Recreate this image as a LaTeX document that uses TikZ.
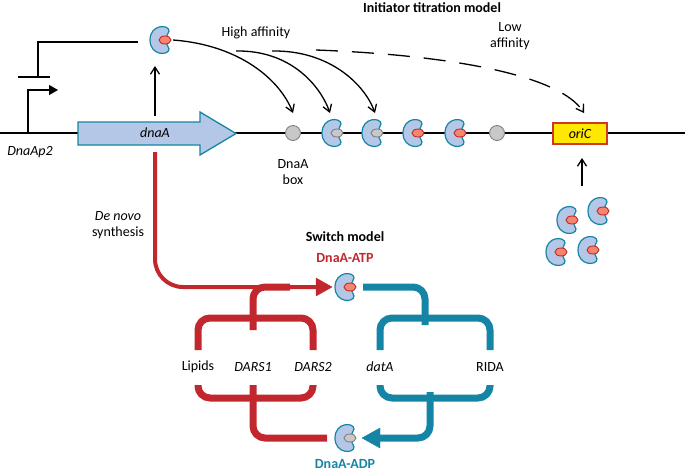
\documentclass[tikz,border=0pt]{standalone}
\usepackage{fontspec}
\setmainfont{Carlito}
\usetikzlibrary{arrows.meta}
\definecolor{teal1}{HTML}{1585A5}
\definecolor{lblue}{HTML}{B4C7E7}
\definecolor{red1}{HTML}{C1272D}
\definecolor{salmon}{HTML}{F4866E}
\definecolor{gry}{HTML}{C8C8C8}
\tikzset{
 bean/.pic={\draw[teal1,fill=lblue,line width=1.2pt] (6,-2) .. controls (6,-5) and (9,-6) .. (9,-9) .. controls (9,-16) and (-10,-16) .. (-10,0) .. controls (-10,16) and (9,16) .. (9,9) .. controls (9,6) and (6,5) .. (6,2) -- cycle;},
 atp/.pic={\pic{bean};\draw[red1,fill=salmon,line width=0.9pt] (5,0) ellipse (6 and 4);},
 adp/.pic={\pic{bean};\draw[gray,fill=gry,line width=0.9pt] (5,0) ellipse (6 and 4);},
 lbl/.style={font=\fontsize{14}{16}\selectfont},
 ilbl/.style={font=\itshape\fontsize{14}{16}\selectfont},
 blbl/.style={font=\bfseries\fontsize{14}{16}\selectfont},
 thin/.style={line width=1.3pt,-{Straight Barb[length=7pt,width=9pt]}},
 thick/.style={line width=7pt,rounded corners=12pt},
 box/.style={circle,draw=gray,fill=gry,minimum size=15pt,inner sep=0,line width=0.9pt},
}
\begin{document}
\begin{tikzpicture}[x=1pt,y=-1pt]
\useasboundingbox (0,0) rectangle (685,475);
% baseline
\coordinate (L0) at (0,133); \coordinate (L1) at (685,133);
\draw[line width=1.3pt] (L0) -- (L1);
% promoter
\coordinate (p0) at (28,133);
\draw[line width=1.3pt,-{Triangle[length=9pt,width=10pt]}] (p0) |- (58,90);
\draw[line width=1.3pt] (18,77) -- (50,77);
\draw[line width=1.3pt] (38,77) |- (138,42);
\node[ilbl] (p2) at (30,152) {DnaAp2};
% dnaA gene
\draw[teal1,fill=lblue,line width=1.3pt] (78,122) -- (200,122) -- (200,112) -- (236,133.5) -- (200,155) -- (200,145) -- (78,145) -- cycle;
\node[ilbl] (gene) at (155,133) {dnaA};
\pic at (160,40) {atp};
\coordinate (prot) at (160,40);
\draw[thin] (155,116) -- (155,66);
% boxes
\node[box] (b1) at (293,133) {};
\pic at (332,133) {adp};
\pic at (372,133) {adp};
\pic at (413,133) {atp};
\pic at (455,133) {atp};
\node[box] (b6) at (497,133) {};
\node[draw=red1!80!orange,fill=yellow!90!orange,line width=1.2pt,minimum width=54pt,minimum height=21pt,inner sep=0,ilbl] (ori) at (580,133.5) {oriC};
% titration arrows
\draw[thin] (173,40) .. controls (240,45) and (280,80) .. (293,113);
\draw[thin] (236,51) .. controls (290,50) and (320,85) .. (330,113);
\draw[thin] (272,51) .. controls (330,50) and (365,85) .. (375,113);
\draw[thin,dash pattern=on 22pt off 14pt] (316,50) .. controls (450,55) and (560,75) .. (584,113);
\node[blbl] (t1) at (432,8) {Initiator titration model};
\node[lbl] (ha) at (256,33) {High affinity};
\node[lbl,align=center] (la) at (510,36) {Low\\affinity};
\node[lbl,align=center] (db) at (293,172) {DnaA\\box};
% free DnaA
\draw[thin] (582,186) -- (582,158);
\pic at (567,220) {atp};
\pic at (598,211) {atp};
\pic at (556,252) {atp};
\pic at (588,250) {atp};
% de novo
\node[lbl,align=center] (dn) at (118,225) {\itshape De novo\\synthesis};
\draw[red1,line width=4pt,rounded corners=28pt] (155,152) -- (155,287) -- (318,287);
\draw[red1,fill=red1] (316,278) -- (332,287) -- (316,296) -- cycle;
% switch
\node[blbl] (sm) at (345,237) {Switch model};
\node[blbl,text=red1] (atpl) at (345,258) {DnaA-ATP};
\node[blbl,text=teal1] (adpl) at (345,464) {DnaA-ADP};
\pic at (345,287) {atp};
\pic at (345,438) {adp};
% red structure
\draw[red1,thick] (290,287) -- (253,287) -- (253,330);
\draw[red1,thick] (198,350) -- (198,318) -- (313,318) -- (313,350);
\draw[red1,thick] (198,385) -- (198,398) -- (313,398) -- (313,385);
\draw[red1,thick] (253,385) -- (253,438) -- (327,438);
% teal structure
\draw[teal1,thick] (363,287) -- (425,287) -- (425,325);
\draw[teal1,thick] (380,350) -- (380,318) -- (490,318) -- (490,350);
\draw[teal1,thick] (380,385) -- (380,398) -- (490,398) -- (490,385);
\draw[teal1,thick] (430,392) -- (430,438) -- (378,438);
\draw[teal1,fill=teal1] (380,428) -- (362,438) -- (380,448) -- cycle;
\node[lbl] (lip) at (198,367) {Lipids};
\node[ilbl] (d1) at (253,367) {DARS1};
\node[ilbl] (d2) at (313,367) {DARS2};
\node[ilbl] (da) at (380,367) {datA};
\node[lbl] (ri) at (490,367) {RIDA};
\end{tikzpicture}
\end{document}
